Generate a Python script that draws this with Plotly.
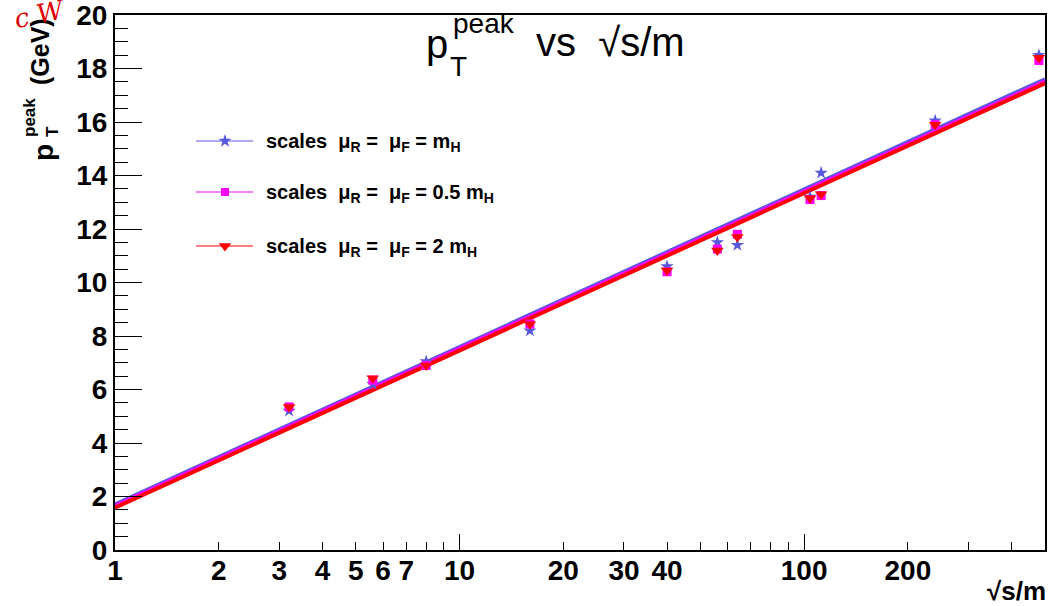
import numpy as np
import plotly.graph_objects as go

# ---------------- data ----------------
sqrt_s_over_m = [3.2, 5.6, 8.0, 16.0, 40.0, 56.0, 64.0, 104.0, 112.0, 240.0, 480.0]
pt_peak_mH = [5.2, 6.2, 7.05, 8.2, 10.6, 11.5, 11.4, 13.2, 14.1, 16.05, 18.5]
pt_peak_halfmH = [5.35, 6.35, 6.9, 8.45, 10.4, 11.25, 11.8, 13.1, 13.25, 15.9, 18.3]
pt_peak_2mH = [5.35, 6.42, 6.9, 8.45, 10.45, 11.2, 11.7, 13.15, 13.3, 15.9, 18.4]

# fitted straight lines (in log x) - endpoints
fit_x = [1.0, 500.0]
fit_mH = [1.70, 17.60]
fit_halfmH = [1.65, 17.52]
fit_2mH = [1.58, 17.45]

x_tickvals = [1, 2, 3, 4, 5, 6, 7, 10, 20, 30, 40, 100, 200]
x_ticktext = ["1", "2", "3", "4", "5", "6", "7", "10", "20", "30", "40", "100", "200"]
x_minor = [8, 9, 50, 60, 70, 80, 90, 300, 400]
x_decades = [10, 100]
y_tickvals = list(range(0, 21, 2))
y_ticktext = [str(v) for v in y_tickvals]

legend_labels = [
    "<b>scales\u00a0\u00a0μ<sub>R</sub>\u00a0=\u00a0\u00a0μ<sub>F</sub>\u00a0=\u00a0m<sub>H</sub></b>",
    "<b>scales\u00a0\u00a0μ<sub>R</sub>\u00a0=\u00a0\u00a0μ<sub>F</sub>\u00a0=\u00a00.5\u00a0m<sub>H</sub></b>",
    "<b>scales\u00a0\u00a0μ<sub>R</sub>\u00a0=\u00a0\u00a0μ<sub>F</sub>\u00a0=\u00a02\u00a0m<sub>H</sub></b>",
]

BLUE = "rgb(88,88,222)"
MAG = "rgb(255,0,255)"
RED = "rgb(255,0,0)"
FONT = "Liberation Sans"

# ---------------- geometry ----------------
W, H = 1057, 606
L, R, T, B = 115, 12, 15, 56
PW, PH = W - L - R, H - T - B


def px(X):
    return (X - L) / PW


def py(Y):
    return (H - B - Y) / PH


fig = go.Figure()

# fit lines
for fy, col in [(fit_mH, BLUE), (fit_halfmH, MAG), (fit_2mH, RED)]:
    fig.add_trace(go.Scatter(x=fit_x, y=fy, mode="lines",
                             line=dict(color=col, width=4), showlegend=False,
                             hoverinfo="skip"))

# data points
fig.add_trace(go.Scatter(x=sqrt_s_over_m, y=pt_peak_mH, mode="markers",
                         marker=dict(symbol="star", size=10, color=BLUE),
                         showlegend=False))
fig.add_trace(go.Scatter(x=sqrt_s_over_m, y=pt_peak_halfmH, mode="markers",
                         marker=dict(symbol="square", size=9, color=MAG),
                         showlegend=False))
fig.add_trace(go.Scatter(x=sqrt_s_over_m, y=pt_peak_2mH, mode="markers",
                         marker=dict(symbol="triangle-down", size=11, color=RED),
                         showlegend=False))

# dummy trace for decade-tick overlay axis
fig.add_trace(go.Scatter(x=[None], y=[None], xaxis="x3", yaxis="y",
                         showlegend=False, hoverinfo="skip"))

# hand-drawn legend on a pixel-coordinate overlay
legend_rows = [141, 192, 246]
legend_styles = [("star", 10, BLUE), ("square", 8, MAG), ("triangle-down", 11, RED)]
for yrow, (sym, sz, col), lab in zip(legend_rows, legend_styles, legend_labels):
    fig.add_trace(go.Scatter(x=[196, 253], y=[yrow, yrow], mode="lines",
                             line=dict(color=col, width=1), xaxis="x2", yaxis="y2",
                             showlegend=False, hoverinfo="skip"))
    fig.add_trace(go.Scatter(x=[225], y=[yrow], mode="markers",
                             marker=dict(symbol=sym, size=sz, color=col),
                             xaxis="x2", yaxis="y2", showlegend=False, hoverinfo="skip"))
    fig.add_annotation(x=264, y=yrow + 1, xref="x2", yref="y2", text=lab,
                       showarrow=False, xanchor="left", yanchor="middle",
                       font=dict(family=FONT, size=20, color="black"))

axis_common = dict(showgrid=False, zeroline=False, showline=True, linewidth=2,
                   linecolor="black", mirror=True, ticks="inside", tickcolor="black",
                   ticklabeloverflow="allow", automargin=False,
                   tickfont=dict(family=FONT, size=28, color="black", weight="bold"))

fig.update_layout(
    width=W, height=H,
    margin=dict(l=L, r=R, t=T, b=B, pad=0, autoexpand=False),
    paper_bgcolor="white", plot_bgcolor="white",
    showlegend=False,
    xaxis=dict(type="log", range=[0, np.log10(500)], tickmode="array",
               tickvals=x_tickvals, ticktext=x_ticktext, ticklen=8, tickwidth=1,
               ticklabelstandoff=-6,
               minor=dict(tickmode="array", tickvals=x_minor, ticklen=8, tickwidth=1,
                          ticks="inside", tickcolor="black"),
               **axis_common),
    xaxis3=dict(type="log", range=[0, np.log10(500)], overlaying="x", anchor="y",
                tickmode="array", tickvals=x_decades, ticklen=16, tickwidth=1,
                ticks="inside", tickcolor="black", showticklabels=False,
                showgrid=False, zeroline=False, showline=False, automargin=False),
    yaxis=dict(range=[0, 20.0001], tickmode="array", tickvals=y_tickvals,
               ticktext=y_ticktext, ticklen=27, tickwidth=1,
               minor=dict(dtick=0.5, ticklen=13, tickwidth=1, ticks="inside",
                          tickcolor="black"),
               **axis_common),
    xaxis2=dict(range=[L, W - R], overlaying="x", anchor="y2", visible=False,
                fixedrange=True, automargin=False),
    yaxis2=dict(range=[H - B, T], overlaying="y", anchor="x2", visible=False,
                fixedrange=True, automargin=False),
)


def ann(X, Y, text, size, bold=False, angle=0, xanchor="center", color="black",
        family=FONT):
    fig.add_annotation(x=px(X), y=py(Y), xref="paper", yref="paper", text=text,
                       showarrow=False, xanchor=xanchor, yanchor="middle",
                       textangle=angle,
                       font=dict(family=family, size=size, color=color,
                                 weight="bold" if bold else "normal"))


# title pieces (p_T^peak vs sqrt(s)/m)
ann(437, 44, "p", 40)
ann(484, 24, "peak", 28)
ann(458, 66, "T", 28)
ann(610, 42, "vs\u00a0\u00a0√s/m", 40)

# y-axis title pieces (rotated)
ann(43, 153, "p", 28, bold=True, angle=-90)
ann(30, 118, "peak", 17, bold=True, angle=-90)
ann(53, 132, "T", 17, bold=True, angle=-90)
ann(40, 52, "(GeV)", 25, bold=True, angle=-90)

# x-axis title
ann(1048, 591, "√s/m", 26, bold=True, xanchor="right")

# red scribble in the corner
ann(40, 14, "<i>c W</i>", 26, angle=-12, color="rgb(220,0,0)", family="DejaVu Serif")

fig.write_html("out.html")
